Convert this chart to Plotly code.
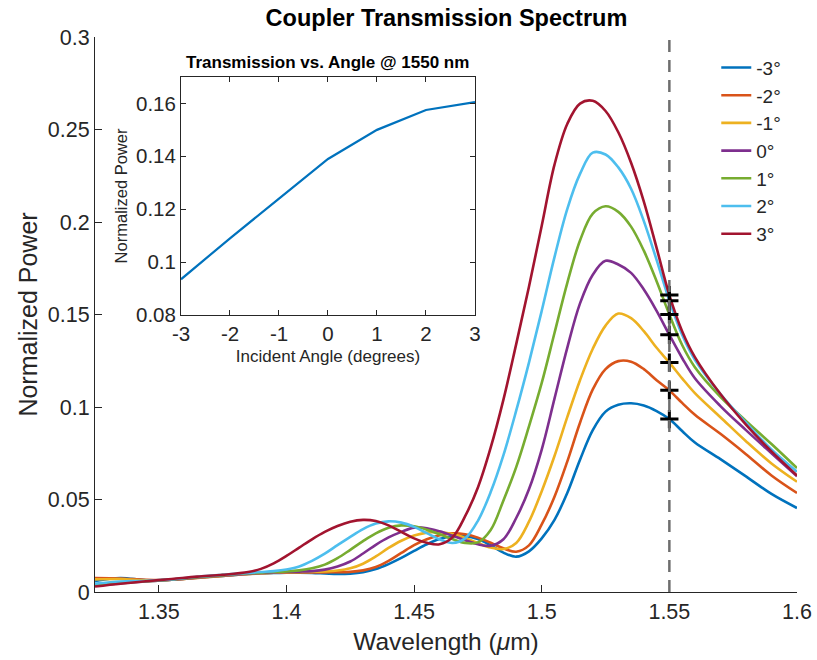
import plotly.graph_objects as go

# ---------------- data ----------------
angle_labels = ["-3°", "-2°", "-1°", "0°", "1°", "2°", "3°"]
colors = ["#0072BD", "#D95319", "#EDB120", "#7E2F8E", "#77AC30", "#4DBEEE", "#A2142F"]

# wavelength samples (um): coarse at the edges, 5 nm steps through the resonance
wavelength = ([1.325, 1.335, 1.345, 1.355, 1.365, 1.375, 1.385]
              + [round(1.39 + 0.005 * k, 3) for k in range(35)]
              + [1.57, 1.58, 1.59, 1.60])

# normalized power for each incident angle
p_m3 = [0.006, 0.0076, 0.0063, 0.0066, 0.0077, 0.0087, 0.0097,
        0.0101, 0.0103, 0.0104, 0.0104, 0.0103, 0.0100, 0.0097, 0.0099, 0.0107, 0.0124,
        0.0151, 0.0184, 0.0222, 0.0258, 0.0286, 0.0301, 0.0302, 0.0286, 0.0252, 0.0213,
        0.0191, 0.022, 0.029, 0.039, 0.0535, 0.0715, 0.0875, 0.0975, 0.1012, 0.102,
        0.1008, 0.0978, 0.0935, 0.087, 0.0808,
        0.0718, 0.0625, 0.053, 0.0454]
p_m2 = [0.0075, 0.0073, 0.0066, 0.0066, 0.0076, 0.0087, 0.0097,
        0.0101, 0.0104, 0.0105, 0.0106, 0.0106, 0.0106, 0.0107, 0.0109, 0.0117, 0.0135,
        0.0168, 0.0211, 0.0253, 0.0285, 0.0307, 0.0317, 0.0312, 0.0294, 0.0266, 0.0236,
        0.0218, 0.0252, 0.0365, 0.0515, 0.0705, 0.0915, 0.1095, 0.1205, 0.1248, 0.1245,
        0.1205, 0.1145, 0.109, 0.1022, 0.0958,
        0.0855, 0.0745, 0.063, 0.0535]
p_m1 = [0.0068, 0.007, 0.0063, 0.0066, 0.0077, 0.0088, 0.0098,
        0.0102, 0.0105, 0.0107, 0.0108, 0.0109, 0.0111, 0.0116, 0.0128, 0.0153, 0.0192,
        0.0238, 0.0277, 0.0305, 0.0321, 0.0324, 0.0313, 0.0292, 0.0265, 0.024, 0.0232,
        0.0265, 0.038, 0.0545, 0.0735, 0.0945, 0.1145, 0.1315, 0.144, 0.1505, 0.148,
        0.141, 0.132, 0.124, 0.1155, 0.1075,
        0.0945, 0.0815, 0.0695, 0.0596]
p_0 = [0.0035, 0.0048, 0.0057, 0.0066, 0.0078, 0.0089, 0.0099,
       0.0103, 0.0106, 0.0108, 0.011, 0.0113, 0.0121, 0.0138, 0.0165, 0.0208, 0.0255,
       0.0295, 0.0325, 0.0348, 0.0345, 0.0328, 0.0305, 0.028, 0.0258, 0.025, 0.0285,
       0.040, 0.0555, 0.077, 0.1045, 0.132, 0.156, 0.1715, 0.179, 0.177, 0.1725,
       0.1635, 0.152, 0.139, 0.1265, 0.1155,
       0.1005, 0.0875, 0.075, 0.0626]
p_p1 = [0.004, 0.005, 0.0058, 0.0067, 0.008, 0.0091, 0.0101,
        0.0105, 0.0108, 0.0111, 0.0117, 0.0128, 0.0148, 0.0183, 0.0228, 0.0275, 0.0317,
        0.0347, 0.036, 0.0355, 0.0337, 0.0312, 0.0286, 0.0265, 0.0268, 0.0335, 0.0495,
        0.0675, 0.0895, 0.113, 0.140, 0.167, 0.190, 0.2045, 0.2085, 0.2055, 0.1975,
        0.1845, 0.168, 0.150, 0.1335, 0.1215,
        0.1055, 0.0925, 0.080, 0.067]
p_p2 = [0.0045, 0.0057, 0.006, 0.0068, 0.0082, 0.0093, 0.0103,
        0.0108, 0.0113, 0.0122, 0.0138, 0.0168, 0.0207, 0.0253, 0.0298, 0.034, 0.037,
        0.0382, 0.0375, 0.0352, 0.0318, 0.0285, 0.0265, 0.029, 0.0385, 0.054, 0.074,
        0.098, 0.124, 0.152, 0.181, 0.207, 0.226, 0.2375, 0.2365, 0.2295, 0.218,
        0.2005, 0.1795, 0.1575, 0.139, 0.1255,
        0.107, 0.0915, 0.077, 0.065]
p_p3 = [0.003, 0.0045, 0.0058, 0.007, 0.0083, 0.0093, 0.0108,
        0.0125, 0.0155, 0.0195, 0.024, 0.0285, 0.0325, 0.0357, 0.038, 0.039, 0.0384,
        0.036, 0.0325, 0.029, 0.0266, 0.0258, 0.0295, 0.041, 0.0565, 0.078, 0.104,
        0.134, 0.165, 0.198, 0.231, 0.253, 0.264, 0.2655, 0.260, 0.2485, 0.232,
        0.211, 0.186, 0.1605, 0.141, 0.127,
        0.107, 0.0905, 0.076, 0.063]

spectra = [p_m3, p_m2, p_m1, p_0, p_p1, p_p2, p_p3]

# transmission at 1550 nm versus incident angle
probe_wl = 1.55
angles = [-3, -2, -1, 0, 1, 2, 3]
angle_tick_text = ["-3", "-2", "-1", "0", "1", "2", "3"]
power_1550 = [0.0935, 0.109, 0.124, 0.139, 0.150, 0.1575, 0.1605]

x_ticks = [1.35, 1.4, 1.45, 1.5, 1.55, 1.6]
x_tick_text = ["1.35", "1.4", "1.45", "1.5", "1.55", "1.6"]
y_ticks = [0, 0.05, 0.1, 0.15, 0.2, 0.25, 0.3]
y_tick_text = ["0", "0.05", "0.1", "0.15", "0.2", "0.25", "0.3"]
inset_y_ticks = [0.08, 0.1, 0.12, 0.14, 0.16]
inset_y_text = ["0.08", "0.1", "0.12", "0.14", "0.16"]

# ---------------- figure ----------------
FONT = "Liberation Sans, Arial, Helvetica, sans-serif"
AX = "#262626"

fig = go.Figure()

for i, p in enumerate(spectra):
    fig.add_trace(go.Scatter(
        x=wavelength, y=p, mode="lines", name=angle_labels[i],
        legendgroup=angle_labels[i],
        line=dict(color=colors[i], width=2.6, shape="spline", smoothing=1.0),
        xaxis="x", yaxis="y",
    ))

# sampled points at 1550 nm
fig.add_trace(go.Scatter(
    x=[probe_wl] * len(power_1550), y=power_1550, mode="markers", showlegend=False,
    marker=dict(symbol="cross-thin", size=13, color="black", line=dict(color="black", width=3)),
    xaxis="x", yaxis="y",
))

# inset curve
fig.add_trace(go.Scatter(
    x=angles, y=power_1550, mode="lines", showlegend=False,
    line=dict(color="#0072BD", width=2.2),
    xaxis="x2", yaxis="y2",
))

# vertical probe line
fig.add_shape(type="line", xref="x", yref="paper", x0=probe_wl, x1=probe_wl, y0=0, y1=1,
              line=dict(color="#6E6E6E", width=2.5, dash="12px,8px"), layer="above")

fig.update_layout(
    width=817, height=660,
    margin=dict(l=95, r=20, t=37, b=68, autoexpand=False),
    paper_bgcolor="white", plot_bgcolor="white",
    font=dict(family=FONT, color=AX),
    title=dict(text="<b>Coupler Transmission Spectrum</b>", x=0.5465, xanchor="center",
               y=0.973, yanchor="middle", font=dict(size=23.5, color="black", family=FONT)),
    showlegend=True,
    legend=dict(x=0.885, y=0.979, xanchor="left", yanchor="top", bgcolor="rgba(0,0,0,0)",
                font=dict(size=19, color=AX, family=FONT), tracegroupgap=0),
    xaxis=dict(domain=[0, 1], range=[1.325, 1.6], tickvals=x_ticks, ticktext=x_tick_text,
               automargin=False,
               showline=True, linecolor=AX, linewidth=1, ticks="inside", ticklen=7, tickcolor=AX,
               showgrid=False, zeroline=False, tickfont=dict(size=21.5, color=AX),
               title=dict(text="Wavelength (<i>μ</i>m)", font=dict(size=24.5, color=AX), standoff=10)),
    yaxis=dict(domain=[0, 1], range=[0, 0.3], tickvals=y_ticks, ticktext=y_tick_text,
               automargin=False,
               showline=True, linecolor=AX, linewidth=1, ticks="inside", ticklen=7, tickcolor=AX,
               showgrid=False, zeroline=False, tickfont=dict(size=21.5, color=AX),
               title=dict(text="Normalized Power", font=dict(size=25, color=AX), standoff=3)),
    xaxis2=dict(domain=[0.1225, 0.5413], anchor="y2", range=[-3, 3], tickvals=angles,
                ticktext=angle_tick_text, automargin=False,
                showline=True, mirror="ticks", linecolor=AX, linewidth=1, ticks="inside", ticklen=5,
                tickcolor=AX, showgrid=False, zeroline=False, tickfont=dict(size=20.5, color=AX),
                title=dict(text="Incident Angle (degrees)", font=dict(size=17, color=AX), standoff=6)),
    yaxis2=dict(domain=[0.4991, 0.928], anchor="x2", range=[0.08, 0.17], tickvals=inset_y_ticks,
                ticktext=inset_y_text, automargin=False,
                showline=True, mirror="ticks", linecolor=AX, linewidth=1, ticks="inside", ticklen=5,
                tickcolor=AX, showgrid=False, zeroline=False, tickfont=dict(size=20.5, color=AX),
                title=dict(text="Normalized Power", font=dict(size=16.5, color=AX), standoff=4)),
    annotations=[dict(text="<b>Transmission vs. Angle @ 1550 nm</b>", xref="paper", yref="paper",
                      x=(0.1225 + 0.5413) / 2, y=0.928, xanchor="center", yanchor="bottom", yshift=3,
                      showarrow=False, font=dict(size=17, color="black", family=FONT))],
)

fig.write_html("out.html")
